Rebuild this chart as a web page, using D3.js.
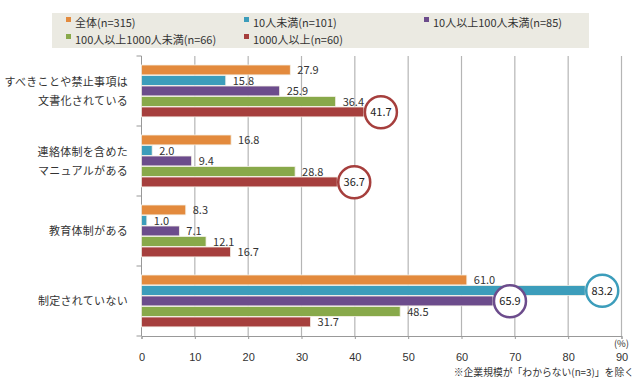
<!DOCTYPE html>
<html>
<head>
<meta charset="utf-8">
<script src="https://cdn.jsdelivr.net/npm/d3@7"></script>
<style>
  body { margin: 0; background: #fff; }
  svg { font-family: "Noto Sans CJK JP", "Noto Sans", sans-serif; }
</style>
</head>
<body>
<div id="chart"></div>
<script>
const width = 640
const height = 385

// data
const categories = [
  ["すべきことや禁止事項は", "文書化されている"],
  ["連絡体制を含めた", "マニュアルがある"],
  ["教育体制がある"],
  ["制定されていない"]
]
const seriesNames = ["全体(n=315)", "10人未満(n=101)", "10人以上100人未満(n=85)", "100人以上1000人未満(n=66)", "1000人以上(n=60)"]
const seriesColors = ["#e38a3d", "#3c9dbb", "#6c4c8c", "#88a94a", "#a63f3d"]
const zentai = [27.9, 16.8, 8.3, 61.0]
const under10 = [15.8, 2.0, 1.0, 83.2]
const from10to100 = [25.9, 9.4, 7.1, 65.9]
const from100to1000 = [36.4, 28.8, 12.1, 48.5]
const over1000 = [41.7, 36.7, 16.7, 31.7]
const seriesValues = [zentai, under10, from10to100, from100to1000, over1000]
// [category index, series index] of the circled values
const circled = [[0, 4], [1, 4], [3, 1], [3, 2]]
const xTicks = [0, 10, 20, 30, 40, 50, 60, 70, 80, 90]

const margin = { left: 141.5, right: 18.5, top: 56, bottom: 49 }
const plotW = width - margin.left - margin.right
const plotH = height - margin.top - margin.bottom

const svg = d3.select("#chart").append("svg")
  .attr("width", width).attr("height", height)

// legend
const legend = svg.append("g")
legend.append("rect")
  .attr("x", 52).attr("y", 13).attr("width", 537).attr("height", 35)
  .attr("fill", "#ebeae2")
const legendPos = [[68, 23], [246, 23], [426, 23], [68, 40], [246, 40]]
seriesNames.forEach((name, i) => {
  const [lx, ly] = legendPos[i]
  legend.append("rect")
    .attr("x", lx - 2).attr("y", ly - 6).attr("width", 5).attr("height", 5)
    .attr("fill", seriesColors[i])
  legend.append("text")
    .attr("x", lx + 7).attr("y", ly + 4)
    .attr("font-size", 11).attr("fill", "#333")
    .text(name)
})

const x = d3.scaleLinear().domain([0, 90]).range([margin.left, margin.left + plotW])
const yCat = d3.scaleBand().domain(d3.range(categories.length))
  .range([margin.top, margin.top + plotH]).padding(0)
const ySer = d3.scaleBand().domain(d3.range(seriesNames.length))
  .range([9, yCat.bandwidth() - 8.5]).padding(0)

// grid
svg.append("g").selectAll("line")
  .data(xTicks.slice(1))
  .enter().append("line")
  .attr("x1", d => x(d)).attr("x2", d => x(d))
  .attr("y1", margin.top).attr("y2", margin.top + plotH)
  .attr("stroke", "#b5b5b5").attr("stroke-width", 1.2)

// bottom axis
const xAxis = svg.append("g")
  .attr("transform", `translate(0,${margin.top + plotH})`)
  .call(d3.axisBottom(x).tickValues(xTicks).tickSize(3).tickPadding(14).tickFormat(d3.format("d")))
xAxis.select(".domain").attr("stroke", "#999")
xAxis.selectAll(".tick line").attr("stroke", "#999")
xAxis.selectAll("text").attr("font-size", 11).attr("fill", "#333")

// left axis with ticks at category boundaries
const yAxis = svg.append("g")
yAxis.append("line")
  .attr("x1", margin.left).attr("x2", margin.left)
  .attr("y1", margin.top).attr("y2", margin.top + plotH)
  .attr("stroke", "#999")
yAxis.selectAll(".bound")
  .data(d3.range(categories.length + 1))
  .enter().append("line")
  .attr("x1", margin.left - 5).attr("x2", margin.left)
  .attr("y1", d => margin.top + d * yCat.bandwidth())
  .attr("y2", d => margin.top + d * yCat.bandwidth())
  .attr("stroke", "#999")

// category labels
categories.forEach((lines, ci) => {
  const cy = yCat(ci) + yCat.bandwidth() / 2
  const t = svg.append("text")
    .attr("text-anchor", "end").attr("font-size", 11).attr("fill", "#333")
    .attr("letter-spacing", 0.3)
  lines.forEach((line, li) => {
    t.append("tspan")
      .attr("x", 128)
      .attr("y", cy + 4 + (li - (lines.length - 1) / 2) * 19)
      .text(line)
  })
})

// bars
const cells = []
seriesValues.forEach((vals, si) => {
  vals.forEach((v, ci) => cells.push({ ci, si, v }))
})
const isCircled = d => circled.some(c => c[0] === d.ci && c[1] === d.si)

svg.append("g").selectAll("rect")
  .data(cells)
  .enter().append("rect")
  .attr("x", x(0))
  .attr("y", d => yCat(d.ci) + ySer(d.si))
  .attr("width", d => x(d.v) - x(0))
  .attr("height", ySer.bandwidth() - 0.6)
  .attr("fill", d => seriesColors[d.si])
  .attr("stroke", "#f4f0e6").attr("stroke-width", 0.8)

// value labels
svg.append("g").selectAll("text")
  .data(cells.filter(d => !isCircled(d)))
  .enter().append("text")
  .attr("x", d => x(d.v) + 7)
  .attr("y", d => yCat(d.ci) + ySer(d.si) + ySer.bandwidth() / 2 + 4)
  .attr("font-size", 11).attr("fill", "#333")
  .text(d => d.v.toFixed(1))

// circled values
const circ = svg.append("g").selectAll("g")
  .data(cells.filter(isCircled))
  .enter().append("g")
  .attr("transform", d => `translate(${x(d.v) + 17},${yCat(d.ci) + ySer(d.si) + ySer.bandwidth() / 2})`)
circ.append("circle")
  .attr("r", 16)
  .attr("fill", "#fff")
  .attr("stroke", d => seriesColors[d.si])
  .attr("stroke-width", 2.5)
circ.append("text")
  .attr("text-anchor", "middle").attr("y", 4)
  .attr("font-size", 11).attr("fill", "#222")
  .text(d => d.v.toFixed(1))

// unit and note
svg.append("text")
  .attr("x", x(90)).attr("y", 347)
  .attr("text-anchor", "middle").attr("font-size", 9.5).attr("fill", "#333")
  .text("(%)")
svg.append("text")
  .attr("x", 634).attr("y", 376)
  .attr("text-anchor", "end").attr("font-size", 9.8).attr("fill", "#333")
  .text("※企業規模が「わからない(n=3)」を除く")
</script>
</body>
</html>
